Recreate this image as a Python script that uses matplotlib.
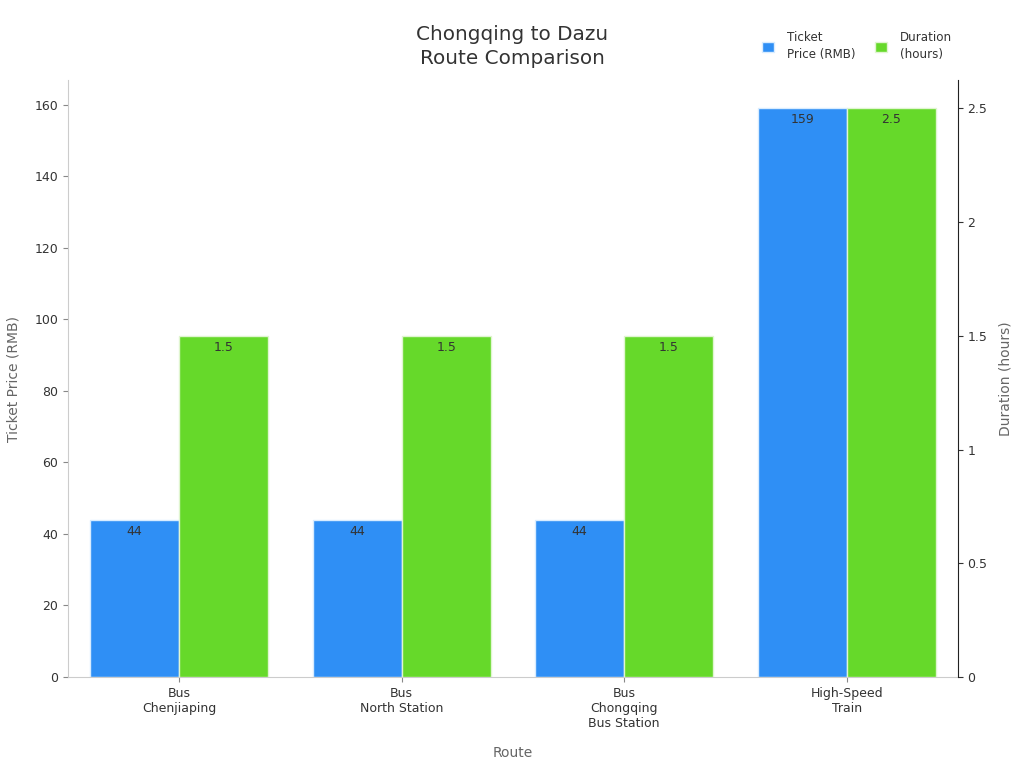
import matplotlib
matplotlib.use("Agg")
import matplotlib.pyplot as plt
import numpy as np
from matplotlib.ticker import FuncFormatter

routes = ["Bus\nChenjiaping", "Bus\nNorth Station", "Bus\nChongqing\nBus Station", "High-Speed\nTrain"]
price = [44, 44, 44, 159]
duration = [1.5, 1.5, 1.5, 2.5]
price_labels = ["44", "44", "44", "159"]
duration_labels = ["1.5", "1.5", "1.5", "2.5"]

blue = "#2f8ff5"
green = "#66d92a"
txt = "#333333"
grey = "#666666"

fig = plt.figure(figsize=(10.24, 7.68), dpi=100)
ax = fig.add_axes([0.0664, 0.1185, 0.869, 0.7773])
ax2 = ax.twinx()

x = np.arange(len(routes))
w = 0.4
b1 = ax.bar(x - w/2, price, w, color=blue, edgecolor="#d8ecff", linewidth=1, label="Ticket\nPrice (RMB)")
b2 = ax2.bar(x + w/2, duration, w, color=green, edgecolor="#e0f5d0", linewidth=1, label="Duration\n(hours)")

ax.set_xlim(-0.5, 3.5)
ax.set_ylim(0, max(price) * 1.05)
ax2.set_ylim(0, max(duration) * 1.05)
ax.set_yticks(np.arange(0, 161, 20))
ax2.set_yticks(np.arange(0, 2.51, 0.5))
ax2.yaxis.set_major_formatter(FuncFormatter(lambda v, p: f"{v:g}"))

for bar, lab in zip(b1, price_labels):
    ax.annotate(lab, (bar.get_x() + bar.get_width()/2, bar.get_height()), xytext=(0, -3.5),
                textcoords="offset points", ha="center", va="top", fontsize=9, color=txt)
for bar, lab in zip(b2, duration_labels):
    ax2.annotate(lab, (bar.get_x() + bar.get_width()/2, bar.get_height()), xytext=(0, -3.5),
                 textcoords="offset points", ha="center", va="top", fontsize=9, color=txt)

ax.set_xticks(x)
ax.set_xticklabels(routes, fontsize=9, color=txt)
ax.tick_params(axis="y", labelsize=9, colors=txt, color="#888888")
ax.tick_params(axis="x", color="#888888")
ax2.tick_params(axis="y", labelsize=9, colors=txt, color="#333333")

for a in (ax, ax2):
    a.spines["top"].set_visible(False)
ax.spines["left"].set_color("#cccccc")
ax.spines["bottom"].set_color("#cccccc")
ax.spines["right"].set_visible(False)
ax2.spines["left"].set_visible(False)
ax2.spines["bottom"].set_visible(False)
ax2.spines["right"].set_color("#222222")

ax.set_xlabel("Route", fontsize=10, color=grey, labelpad=12)
ax.set_ylabel("Ticket Price (RMB)", fontsize=10, color=grey, labelpad=10)
ax2.set_ylabel("Duration (hours)", fontsize=10, color=grey, labelpad=8)

fig.suptitle("Chongqing to Dazu\nRoute Comparison", fontsize=14.4, color=txt, y=0.968,
             linespacing=1.35)

h1, l1 = ax.get_legend_handles_labels()
h2, l2 = ax2.get_legend_handles_labels()
fig.legend(h1 + h2, l1 + l2, loc="upper right", bbox_to_anchor=(0.940, 0.974), ncol=2,
           frameon=False, prop={"size": 8.6}, handlelength=1.0, handleheight=1.0,
           handletextpad=1.1, columnspacing=1.6, labelcolor=txt)
for t in fig.legends[0].get_texts():
    t.set_linespacing(1.45)

fig.savefig("out.png", dpi=100)
